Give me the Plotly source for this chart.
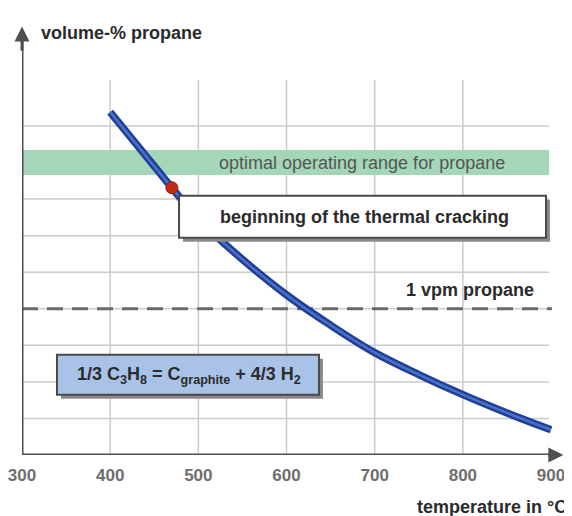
import plotly.graph_objects as go

# ---- data ----
temperature = [400, 450, 470, 500, 550, 600, 650, 700, 750, 800, 850, 900]
# propane equilibrium content, log10(vpm) scale (1 vpm = 0)
log_vpm = [5.38, 3.90, 3.31, 2.45, 1.35, 0.38, -0.45, -1.20, -1.80, -2.35, -2.85, -3.31]
x_ticks = [300, 400, 500, 600, 700, 800, 900]
x_grid = [400, 500, 600, 700, 800]
y_grid = [-3, -2, -1, 0, 1, 2, 3, 4, 5]
optimal_range = [3.66, 4.34]
vpm_line = 0
crack_index = 2  # 470 °C

FONT = "Liberation Sans, Arial, Helvetica, sans-serif"
AX = "#4f4f4f"

fig = go.Figure()

fig.add_trace(go.Scatter(x=temperature, y=log_vpm, mode="lines",
                         line=dict(color="#223f95", width=7.5, shape="spline"),
                         hoverinfo="skip", showlegend=False))
fig.add_trace(go.Scatter(x=temperature, y=log_vpm, mode="lines",
                         line=dict(color="#4673cc", width=2.5, shape="spline"),
                         hoverinfo="skip", showlegend=False))
fig.add_trace(go.Scatter(x=[temperature[crack_index]], y=[log_vpm[crack_index]],
                         mode="markers",
                         marker=dict(color="#c42a1a", size=12,
                                     line=dict(color="#9a1f12", width=1)),
                         hoverinfo="skip", showlegend=False))

shapes = []
x_right = 897.7
for gx in x_grid:
    shapes.append(dict(type="line", xref="x", yref="y", x0=gx, x1=gx, y0=-4, y1=6.26,
                       line=dict(color="#cbcbcb", width=1.5), layer="below"))
for gy in y_grid:
    shapes.append(dict(type="line", xref="x", yref="y", x0=300, x1=x_right, y0=gy, y1=gy,
                       line=dict(color="#cbcbcb", width=1.5), layer="below"))
# optimal range band
shapes.append(dict(type="rect", xref="x", yref="y", x0=300, x1=x_right,
                   y0=optimal_range[0], y1=optimal_range[1],
                   fillcolor="#a3d7b8", line=dict(width=0), layer="below"))
# 1 vpm dashed line
shapes.append(dict(type="line", xref="x", yref="y", x0=300, x1=901, y0=vpm_line, y1=vpm_line,
                   line=dict(color="#6a6a6a", width=3, dash="16px,9px"), layer="below"))
# axis lines
shapes.append(dict(type="line", xref="x", yref="y", x0=300, x1=300, y0=-4.04, y1=7.5,
                   line=dict(color=AX, width=3), layer="below"))
shapes.append(dict(type="line", xref="x", yref="y", x0=299.2, x1=908, y0=-4.0, y1=-4.0,
                   line=dict(color=AX, width=3), layer="below"))

# boxes with shadows
def box(x0, x1, y0, y1, fill):
    dx, dy = 4.5, 0.11
    shapes.append(dict(type="rect", xref="x", yref="y", x0=x0 + dx, x1=x1 + dx,
                       y0=y0 - dy, y1=y1 - dy, fillcolor="#8a8a8a",
                       line=dict(width=0), layer="above"))
    shapes.append(dict(type="rect", xref="x", yref="y", x0=x0, x1=x1, y0=y0, y1=y1,
                       fillcolor=fill, line=dict(color="#4a4a4a", width=2), layer="above"))

box(478.1, 894.3, 1.94, 3.09, "white")
box(339.7, 636.8, -2.352, -1.258, "#a9c3e8")

annotations = [
    # arrowheads on the axes
    dict(x=300, y=7.72, ax=300, ay=7.0, xref="x", yref="y", axref="x", ayref="y",
         text=" ", font=dict(size=1), showarrow=True, arrowhead=2, arrowsize=1,
         arrowwidth=3, arrowcolor=AX),
    dict(x=914, y=-4.0, ax=895, ay=-4.0, xref="x", yref="y", axref="x", ayref="y",
         text=" ", font=dict(size=1), showarrow=True, arrowhead=2, arrowsize=1,
         arrowwidth=3, arrowcolor=AX),
    dict(x=319.3, y=7.55, xref="x", yref="y", xanchor="left", yanchor="middle",
         text="<b>volume-% propane</b>", showarrow=False,
         font=dict(family=FONT, size=18, color="#2b2b2b")),
    dict(x=1.015, y=-0.122, xref="paper", yref="paper", xanchor="right", yanchor="middle",
         text="<b>temperature in °C</b>", showarrow=False,
         font=dict(family=FONT, size=18, color="#2b2b2b")),
    dict(x=685.6, y=4.0, xref="x", yref="y", text="optimal operating range for propane",
         showarrow=False, font=dict(family=FONT, size=18, color="#555555")),
    dict(x=687.9, y=2.52, xref="x", yref="y", text="<b>beginning of the thermal cracking</b>",
         showarrow=False, font=dict(family=FONT, size=18, color="#2b2b2b")),
    dict(x=808, y=0.5, xref="x", yref="y", text="<b>1 vpm propane</b>",
         showarrow=False, font=dict(family=FONT, size=18, color="#2b2b2b")),
    dict(x=489.4, y=-1.83, xref="x", yref="y",
         text="<b>1/3 C<sub>3</sub>H<sub>8</sub> = C<sub>graphite</sub> + 4/3 H<sub>2</sub></b>",
         showarrow=False, font=dict(family=FONT, size=18, color="#2b2b2b")),
]

# page body has an 8px margin, so the figure is 8px smaller and margins shifted
fig.update_layout(
    width=564, height=508,
    margin=dict(l=14, r=11, t=20, b=61, autoexpand=False),
    paper_bgcolor="white", plot_bgcolor="white",
    shapes=shapes, annotations=annotations,
    showlegend=False,
    xaxis=dict(range=[300, 911.3], showgrid=False, zeroline=False, showline=False,
               ticks="", tickvals=x_ticks, ticktext=[str(v) for v in x_ticks],
               tickfont=dict(family=FONT, size=17, color="#6e6e6e", weight="bold"),
               ticklabelstandoff=8, ticklabeloverflow="allow",
               fixedrange=True, automargin=False),
    yaxis=dict(range=[-4, 7.68], showgrid=False, zeroline=False, showline=False,
               showticklabels=False, ticks="", fixedrange=True, automargin=False),
)

fig.write_html("out.html")
